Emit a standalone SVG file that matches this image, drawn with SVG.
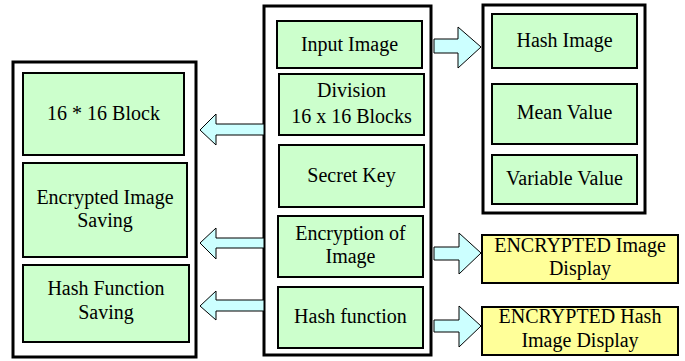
<svg xmlns="http://www.w3.org/2000/svg" width="685" height="361" viewBox="0 0 685 361">
  <style>
    .frame { fill: #ffffff; stroke: #000000; stroke-width: 3; }
    .box { fill: #ccffcc; stroke: #000000; stroke-width: 2; }
    .out { fill: #ffff99; stroke: #000000; stroke-width: 2; }
    .arrow { fill: #ccffff; stroke: #000000; stroke-width: 1; }
    .lbl { font-family: "Liberation Serif", "Times New Roman", serif; font-size: 20px; fill: #000000; text-anchor: middle; }
  </style>
  <rect width="685" height="361" fill="#ffffff"/>

  <!-- storage column -->
  <g id="storage">
    <rect class="frame" x="13" y="62" width="183" height="295"/>
    <g id="block16">
      <rect class="box" x="23" y="73" width="161" height="82"/>
      <text class="lbl" x="103.5" y="120">16 * 16 Block</text>
    </g>
    <g id="enc-saving">
      <rect class="box" x="23" y="163" width="164" height="94"/>
      <text class="lbl" x="105" y="204">Encrypted Image</text>
      <text class="lbl" x="105" y="227">Saving</text>
    </g>
    <g id="hash-saving">
      <rect class="box" x="23" y="265" width="166" height="77"/>
      <text class="lbl" x="106" y="295">Hash Function</text>
      <text class="lbl" x="106" y="319">Saving</text>
    </g>
  </g>

  <!-- processing column -->
  <g id="process">
    <rect class="frame" x="264" y="6" width="167" height="349"/>
    <g id="input">
      <rect class="box" x="277" y="21" width="145" height="47"/>
      <text class="lbl" x="349.5" y="51">Input Image</text>
    </g>
    <g id="division">
      <rect class="box" x="279" y="74" width="145" height="61"/>
      <text class="lbl" x="351.5" y="97">Division</text>
      <text class="lbl" x="351.5" y="123">16 x 16 Blocks</text>
    </g>
    <g id="secret">
      <rect class="box" x="279" y="145" width="145" height="62"/>
      <text class="lbl" x="351.5" y="182">Secret Key</text>
    </g>
    <g id="encryption">
      <rect class="box" x="278" y="216" width="145" height="61"/>
      <text class="lbl" x="350.5" y="240">Encryption of</text>
      <text class="lbl" x="350.5" y="263">Image</text>
    </g>
    <g id="hashfn">
      <rect class="box" x="278" y="287" width="145" height="61"/>
      <text class="lbl" x="350.5" y="323">Hash function</text>
    </g>
  </g>

  <!-- hash column -->
  <g id="hash">
    <rect class="frame" x="483" y="5" width="162" height="208"/>
    <g id="hash-image">
      <rect class="box" x="492" y="14" width="145" height="54"/>
      <text class="lbl" x="564.5" y="47">Hash Image</text>
    </g>
    <g id="mean">
      <rect class="box" x="492" y="84" width="145" height="60"/>
      <text class="lbl" x="564.5" y="119">Mean Value</text>
    </g>
    <g id="variable">
      <rect class="box" x="492" y="155" width="145" height="49"/>
      <text class="lbl" x="564.5" y="185">Variable Value</text>
    </g>
  </g>

  <!-- display outputs -->
  <g id="enc-display">
    <rect class="out" x="482" y="235" width="196" height="48"/>
    <text class="lbl" x="580" y="252">ENCRYPTED Image</text>
    <text class="lbl" x="580" y="275">Display</text>
  </g>
  <g id="hash-display">
    <rect class="out" x="482" y="307" width="196" height="48"/>
    <text class="lbl" x="580" y="323">ENCRYPTED Hash</text>
    <text class="lbl" x="580" y="347">Image Display</text>
  </g>

  <!-- block arrows -->
  <g id="connectors">
    <polygon class="arrow" points="264,124 216,124 216,114 200,130 216,145 216,135 264,135"/>
    <polygon class="arrow" points="264,238 216,238 216,228 200,243 216,259 216,248 264,248"/>
    <polygon class="arrow" points="264,300 216,300 216,291 200,306 216,320 216,311 264,311"/>
    <polygon class="arrow" points="434,39 458,39 458,27 481,47 458,68 458,53 434,53"/>
    <polygon class="arrow" points="434,247 459,247 459,233 481,253 459,274 459,260 434,260"/>
    <polygon class="arrow" points="434,320 459,320 459,306 481,326 459,347 459,332 434,332"/>
  </g>
</svg>
